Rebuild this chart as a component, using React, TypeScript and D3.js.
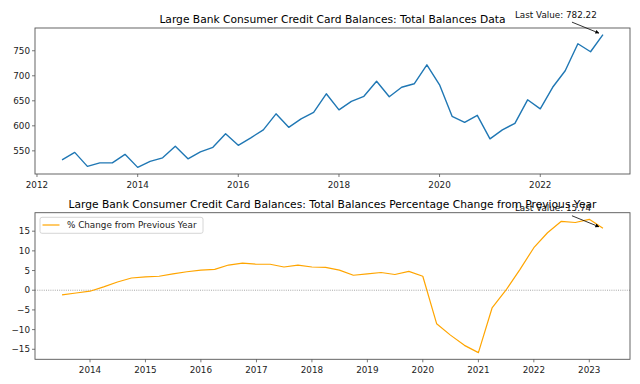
import React from "react";
import * as d3 from "d3";

const balanceDates = [
  "2012-07-01","2012-10-01","2013-01-01","2013-04-01","2013-07-01","2013-10-01",
  "2014-01-01","2014-04-01","2014-07-01","2014-10-01","2015-01-01","2015-04-01","2015-07-01","2015-10-01",
  "2016-01-01","2016-04-01","2016-07-01","2016-10-01","2017-01-01","2017-04-01","2017-07-01","2017-10-01",
  "2018-01-01","2018-04-01","2018-07-01","2018-10-01","2019-01-01","2019-04-01","2019-07-01","2019-10-01",
  "2020-01-01","2020-04-01","2020-07-01","2020-10-01","2021-01-01","2021-04-01","2021-07-01","2021-10-01",
  "2022-01-01","2022-04-01","2022-07-01","2022-10-01","2023-01-01","2023-04-01",
];
const balanceValues = [
  532, 547, 519, 526, 526, 543, 517, 529, 536, 559, 534, 548, 557, 584, 561, 576, 592, 624, 597, 614,
  627, 664, 632, 649, 659, 689, 658, 677, 684, 722, 682, 619, 607, 621, 574, 592, 605, 652, 634, 677,
  710, 764, 748, 782.22,
];
const pctDates = balanceDates.slice(4);
const pctValues = [
  -1.19, -0.7, -0.25, 0.85, 2.1, 3.1, 3.4, 3.55, 4.15, 4.7, 5.1, 5.3, 6.4, 6.9, 6.6, 6.6, 5.9, 6.4, 5.9,
  5.8, 5.1, 3.8, 4.15, 4.5, 4.0, 4.8, 3.55, -8.5, -11.4, -14.0, -15.85, -4.5, 0.0, 5.25, 10.8, 14.6, 17.5,
  17.2, 18.0, 15.74,
];
const topTitle = "Large Bank Consumer Credit Card Balances: Total Balances Data";
const bottomTitle = "Large Bank Consumer Credit Card Balances: Total Balances Percentage Change from Previous Year";
const legendLabel = "% Change from Previous Year";
const topYTicks = [550, 600, 650, 700, 750];
const bottomYTicks = [-15, -10, -5, 0, 5, 10, 15];
const topXTickYears = [2012, 2014, 2016, 2018, 2020, 2022];
const bottomXTickYears = [2014, 2015, 2016, 2017, 2018, 2019, 2020, 2021, 2022, 2023];

const FONT = "DejaVu Sans";
const W = 640, H = 384;
const LEFT = 35, RIGHT = 630;
const SMALL = 8.8;

function padDomain(a: number, b: number, p = 0.05): [number, number] {
  const r = b - a;
  return [a - r * p, b + r * p];
}

type PanelProps = {
  dates: string[]; values: number[]; top: number; bottom: number; color: string; width: number;
  yTicks: number[]; xYears: number[]; title: string; titleY: number; zeroLine?: boolean;
  legend?: boolean; lastLabel: string;
};

function Panel(p: PanelProps) {
  const parsed = p.dates.map((d) => new Date(d + "T00:00:00"));
  const t0 = +parsed[0], t1 = +parsed[parsed.length - 1];
  const [xa, xb] = padDomain(t0, t1);
  const x = d3.scaleTime().domain([new Date(xa), new Date(xb)]).range([LEFT, RIGHT]);
  const [ya, yb] = padDomain(d3.min(p.values)!, d3.max(p.values)!);
  const y = d3.scaleLinear().domain([ya, yb]).range([p.bottom, p.top]);
  const line = d3.line<number>().x((_, i) => x(parsed[i])).y((v) => y(v));
  const lastX = x(parsed[parsed.length - 1]);
  const lastY = y(p.values[p.values.length - 1]);
  const fmt = (v: number) => (v < 0 ? "\u2212" + Math.abs(v) : String(v));
  return (
    <g>
      <text x={(LEFT + RIGHT) / 2} y={p.titleY} textAnchor="middle" fontSize={10.7} fontFamily={FONT} fill="#000">{p.title}</text>
      {p.zeroLine && (
        <line x1={LEFT} x2={RIGHT} y1={y(0)} y2={y(0)} stroke="#808080" strokeWidth={0.7} strokeDasharray="1,1.2" />
      )}
      <path d={line(p.values) || ""} fill="none" stroke={p.color} strokeWidth={p.width} strokeLinejoin="round" />
      <rect x={LEFT} y={p.top} width={RIGHT - LEFT} height={p.bottom - p.top} fill="none" stroke="#555" strokeWidth={0.9} />
      {p.yTicks.map((t) => (
        <g key={"y" + t}>
          <line x1={LEFT - 3} x2={LEFT} y1={y(t)} y2={y(t)} stroke="#555" strokeWidth={0.8} />
          <text x={LEFT - 5} y={y(t)} dy="0.35em" textAnchor="end" fontSize={SMALL} fontFamily={FONT} fill="#222">{fmt(t)}</text>
        </g>
      ))}
      {p.xYears.map((yr) => {
        const xx = x(new Date(yr, 0, 1));
        return (
          <g key={"x" + yr}>
            <line x1={xx} x2={xx} y1={p.bottom} y2={p.bottom + 3} stroke="#555" strokeWidth={0.8} />
            <text x={xx} y={p.bottom + 13.5} textAnchor="middle" fontSize={SMALL} fontFamily={FONT} fill="#222">{yr}</text>
          </g>
        );
      })}
      {p.legend && (
        <g>
          <rect x={40} y={p.top + 4.6} width={163} height={16} rx={2} fill="#fff" fillOpacity={0.8} stroke="#ccc" strokeWidth={0.8} />
          <line x1={42.5} x2={59.5} y1={p.top + 12.3} y2={p.top + 12.3} stroke={p.color} strokeWidth={p.width} />
          <text x={67} y={p.top + 12.3} dy="0.35em" fontSize={SMALL} fontFamily={FONT} fill="#222">{legendLabel}</text>
        </g>
      )}
      <line x1={lastX - 31} x2={lastX - 4} y1={lastY - 12.5} y2={lastY - 1.5} stroke="#000" strokeWidth={0.8} markerEnd="url(#arr)" />
      <text x={lastX - 88} y={lastY - 20} dy="0.35em" fontSize={SMALL} fontFamily={FONT} fill="#111">{p.lastLabel}</text>
    </g>
  );
}

export default function App() {
  return (
    <svg width={W} height={H} style={{ position: "absolute", left: 0, top: 0, background: "#fff" }}>
      <defs>
        <marker id="arr" viewBox="0 0 10 10" refX="9" refY="5" markerWidth="5" markerHeight="5" orient="auto">
          <path d="M0,0 L10,5 L0,10 z" fill="#000" />
        </marker>
      </defs>
      <rect width={W} height={H} fill="#fff" />
      <Panel dates={balanceDates} values={balanceValues} top={28} bottom={174} color="#1f77b4" width={1.4}
        yTicks={topYTicks} xYears={topXTickYears} title={topTitle} titleY={23}
        lastLabel={"Last Value: " + balanceValues[balanceValues.length - 1].toFixed(2)} />
      <Panel dates={pctDates} values={pctValues} top={212.7} bottom={359.3} color="#FFA500" width={1.2}
        yTicks={bottomYTicks} xYears={bottomXTickYears} title={bottomTitle} titleY={208} zeroLine legend
        lastLabel={"Last Value: " + pctValues[pctValues.length - 1].toFixed(2)} />
    </svg>
  );
}
